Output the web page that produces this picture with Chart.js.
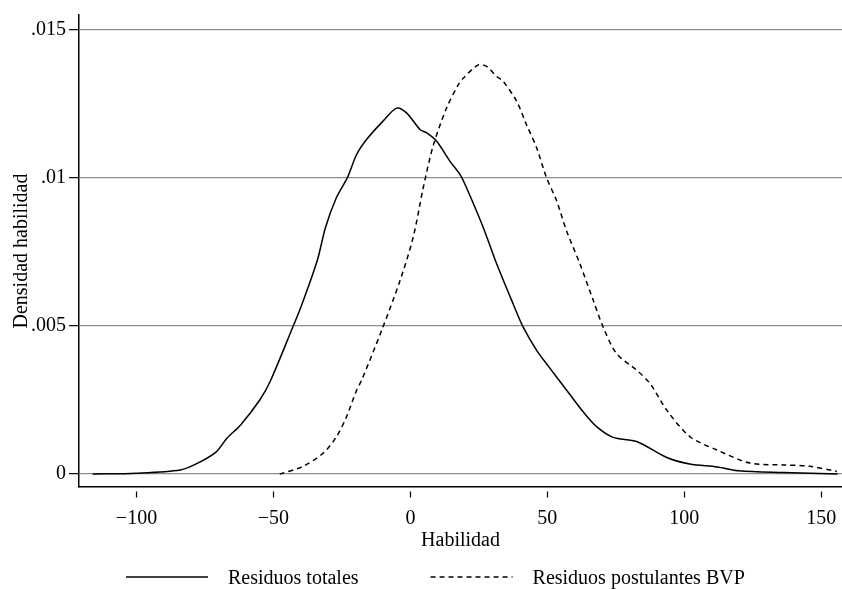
<!DOCTYPE html>
<html><head><meta charset="utf-8">
<script src="https://cdn.jsdelivr.net/npm/chart.js@4/dist/chart.umd.min.js"></script>
<style>html,body{margin:0;padding:0;background:#fff;} canvas{display:block;}</style>
</head><body>
<canvas id="c" width="842" height="589"></canvas>
<script>
// ---- data ----
const totalesX = [-116, -100, -84, -78, -71, -67, -62, -55, -51, -43, -40, -34, -31, -27, -23, -19.6, -16, -10, -5, -1.4, 3.5, 6, 9.6, 14.4, 18.1, 20.5, 26.6, 31.5, 37.5, 41.2, 46.1, 51, 57, 63, 68, 74, 82.6, 93.6, 102, 112, 120, 136, 156];
const totalesY = [0, 0.00003, 0.00014, 0.00035, 0.00074, 0.00121, 0.00166, 0.0025, 0.00317, 0.00495, 0.00563, 0.00721, 0.00833, 0.00934, 0.01001, 0.0108, 0.0113, 0.01192, 0.01236, 0.0122, 0.01164, 0.01152, 0.01124, 0.01057, 0.01012, 0.00967, 0.00833, 0.0071, 0.00575, 0.00496, 0.00418, 0.00357, 0.00284, 0.00211, 0.0016, 0.00124, 0.0011, 0.00056, 0.00034, 0.00024, 0.00011, 0.00005, 0];
const bvpX = [-47.7, -39.2, -31.8, -27, -23.3, -19.6, -17.8, -10.5, -3.8, 1, 4.7, 8.3, 13.2, 17.5, 19.3, 24.8, 27.8, 31.5, 33.9, 38.8, 42.4, 46.1, 49.7, 53.4, 57, 61.9, 66.8, 70.4, 75.3, 82.6, 87.5, 93.6, 102.1, 111.8, 124, 136.2, 145.9, 155.7];
const bvpY = [0, 0.00026, 0.00071, 0.00126, 0.00194, 0.00284, 0.00317, 0.00485, 0.00653, 0.00799, 0.00967, 0.01108, 0.01236, 0.01315, 0.01337, 0.01382, 0.01377, 0.01343, 0.01326, 0.01259, 0.0118, 0.01102, 0.01001, 0.00923, 0.00822, 0.0071, 0.00586, 0.00496, 0.00407, 0.00351, 0.00306, 0.00216, 0.00126, 0.00082, 0.00037, 0.00031, 0.00026, 0.00009];
const xTickValues = [-100, -50, 0, 50, 100, 150];
const yTickValues = [0, 0.005, 0.01, 0.015];
const yTickLabels = ['0', '.005', '.01', '.015'];
const seriesLabels = ['Residuos totales', 'Residuos postulantes BVP'];
const xTitle = 'Habilidad';
const yTitle = 'Densidad habilidad';

// ---- chart ----
const FONT = "'Liberation Serif', 'Times New Roman', serif";
Chart.defaults.font.family = FONT;
Chart.defaults.font.size = 20;
Chart.defaults.color = '#000';

const toPoints = (xs, ys) => xs.map((x, i) => ({x: x, y: ys[i]}));

const bottomLegend = {
  id: 'bottomLegend',
  afterDraw(chart, args, opts) {
    const ctx = chart.ctx;
    ctx.save();
    ctx.font = '20px ' + FONT;
    ctx.textBaseline = 'alphabetic';
    ctx.fillStyle = '#000';
    let x = opts.startX;
    chart.data.datasets.forEach(ds => {
      ctx.beginPath();
      ctx.setLineDash(ds.borderDash || []);
      ctx.lineWidth = ds.borderWidth;
      ctx.strokeStyle = ds.borderColor;
      ctx.moveTo(x, opts.lineY);
      ctx.lineTo(x + opts.sample, opts.lineY);
      ctx.stroke();
      ctx.setLineDash([]);
      const tx = x + opts.sample + opts.textGap;
      ctx.fillText(ds.label, tx, opts.textY);
      x = tx + ctx.measureText(ds.label).width + opts.itemGap;
    });
    ctx.restore();
  }
};

new Chart(document.getElementById('c'), {
  type: 'line',
  data: {
    datasets: [
      {label: seriesLabels[0], data: toPoints(totalesX, totalesY), borderColor: '#000', borderWidth: 1.5, pointRadius: 0, tension: 0.3, fill: false},
      {label: seriesLabels[1], data: toPoints(bvpX, bvpY), borderColor: '#000', borderWidth: 1.5, borderDash: [5, 4], pointRadius: 0, tension: 0.3, fill: false}
    ]
  },
  options: {
    responsive: false,
    animation: false,
    devicePixelRatio: 1,
    layout: {padding: {top: 13, left: 0, right: 0, bottom: 0}},
    plugins: {
      legend: {display: false},
      tooltip: {enabled: false},
      bottomLegend: {startX: 126, sample: 82, textGap: 20, itemGap: 72, lineY: 577, textY: 584}
    },
    scales: {
      x: {
        type: 'linear', min: -121, max: 157.6,
        afterBuildTicks: s => { s.ticks = xTickValues.map(v => ({value: v})); },
        afterFit: s => { s.height = 102; s.paddingLeft = 0; s.paddingRight = 0; },
        ticks: {callback: v => String(v).replace('-', '\u2212'), padding: 0, maxRotation: 0, autoSkip: false, color: '#000'},
        grid: {drawOnChartArea: false, drawTicks: true, tickLength: 20, tickColor: '#000', tickWidth: 1.2, tickBorderDash: [0, 4, 6, 100]},
        border: {color: '#000', width: 1.5},
        title: {display: true, text: xTitle, color: '#000', padding: {top: 0, bottom: 36}}
      },
      y: {
        type: 'linear', min: -0.000437, max: 0.015504,
        afterBuildTicks: s => { s.ticks = yTickValues.map(v => ({value: v})); },
        afterFit: s => { s.width = 79; },
        ticks: {callback: v => { const i = yTickValues.indexOf(v); return i >= 0 ? yTickLabels[i] : ''; }, padding: 3, color: '#000'},
        grid: {color: '#8c8c8c', lineWidth: 1.3, tickColor: '#000', tickLength: 10, tickWidth: 1.2},
        border: {color: '#000', width: 1.5},
        title: {display: true, text: yTitle, color: '#000', padding: {top: 10, bottom: 0}}
      }
    }
  },
  plugins: [bottomLegend]
});
</script>
</body></html>
